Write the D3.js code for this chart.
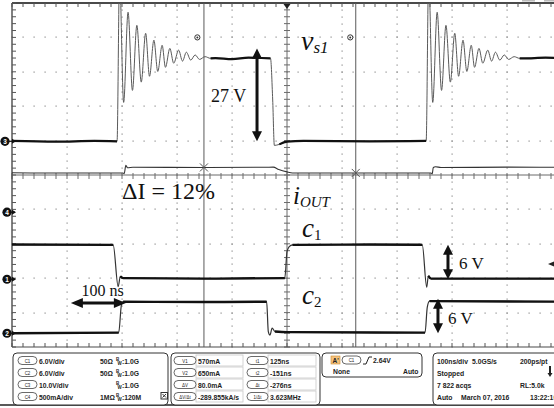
<!DOCTYPE html>
<html>
<head>
<meta charset="utf-8">
<script src="https://cdn.jsdelivr.net/npm/d3@7"></script>
<style>
  body { margin: 0; background: #fff; }
  svg { display: block; }
</style>
</head>
<body>
<svg id="scope" width="554" height="408"></svg>
<script>
// ---- Acquisition setup -------------------------------------------------
// 100 ns/div horizontally over 10 divisions, 10 vertical divisions
const timeDomain = [-500, 500];        // ns
const divDomain = [-5, 5];             // divisions

// Per-channel scale (units/div) and ground offset (divisions from centre)
const channelScales  = { C1: 6, C2: 6, C3: 10, C4: 0.5 };
const channelOffsets = { C1: -3.03, C2: -4.6, C3: 0.98, C4: -1.08 };

// ---- Waveforms (time ns, value in channel units) -----------------------
// Switching-node ringing after each rising edge of v_s1 (time after edge, volts)
const ringTimes = [0, 4.5, 12, 20, 28, 36, 44, 52, 59, 67, 74, 82, 88, 96, 103, 112, 119, 126, 134, 142, 150, 160, 170];
const ringVolts = [0, 48, 11.3, 37.5, 14.8, 33.7, 17.2, 31.4, 18.9, 29.4, 20.3, 27.9, 21.5, 27.0, 22.7, 26.5, 23.3, 25.9, 23.6, 25.1, 23.8, 24.6, 24.1];
const vs1RiseTimes = [-309, 253];

// v_s1 (C3) segments between the ringing bursts
const vs1Before = [[-500, 0.1], [-420, -0.1], [-350, 0.1], [-309, 0]];
const vs1Middle = [[-130, 24.2], [-100, 23.9], [-70, 24.3], [-30, 24.1], [-26, 12], [-23, -1.2], [-14, -0.9], [0, -0.1], [30, 0.1], [150, 0.0], [253, 0.1]];
const vs1After  = [[430, 24.1], [470, 24.3], [500, 24.1]];

// i_OUT (C4), amps
const iOutPoints = [[-500, 0.572], [-400, 0.568], [-298, 0.570], [-296, 0.560], [-293, 0.68], [-290, 0.645], [-280, 0.652], [-151, 0.650], [-40, 0.652], [-25, 0.655], [-15, 0.62], [0, 0.585], [10, 0.570], [125, 0.570], [262, 0.568], [264, 0.555], [266, 0.650], [270, 0.66], [280, 0.648], [400, 0.655], [500, 0.652]];

// Gate signal c1 (C1), volts
const c1Points = [[-500, 6.05], [-316, 6.0], [-307, -1.3], [-303, 0.5], [-298, 0.2], [-150, 0.1], [-4, 0.2], [0, 4.8], [4, 5.7], [10, 6.0], [150, 6.05], [246, 6.0], [254, -1.4], [257, 0.6], [262, 0.1], [500, 0.1]];

// Gate signal c2 (C2), volts
const c2Points = [[-500, 0.0], [-306, 0.1], [-301, 5.0], [-298, 5.5], [-150, 5.45], [-37, 5.5], [-34, 0.3], [-31, -0.3], [-27, 0.9], [-22, 0.3], [0, 0.2], [251, 0.1], [255, 4.5], [259, 5.6], [500, 5.5]];

// Cursor readouts
const cursorTimes = [-151, 125];                       // t2, t1 (ns)
const cursorMarks = [[-151, 0.650], [125, 0.570]];     // V2, V1 on C4 (A)

// Annotation values
const swingVs1 = 27;      // V
const swingC1 = 6;        // V
const swingC2 = 6;        // V
const deadTime = 100;     // ns

// Readout panel text
const chanLabels = ["C1", "C2", "C3", "C4"];
const chanScaleText = ["6.0V/div", "6.0V/div", "10.0V/div", "500mA/div"];
const chanImpText = ["50Ω", "50Ω", "", "1MΩ"];
const chanBwText = [":1.0G", ":1.0G", ":1.0G", ":120M"];
const vCursorLabels = ["V1", "V2", "ΔV", "ΔV/Δt"];
const vCursorValues = ["570mA", "650mA", "80.0mA", "-289.855kA/s"];
const tCursorLabels = ["t1", "t2", "Δt", "1/Δt"];
const tCursorValues = ["125ns", "-151ns", "-276ns", "3.623MHz"];
const acqRows = [
  ["100ns/div", "5.0GS/s", "200ps/pt"],
  ["Stopped", "", ""],
  ["7 822 acqs", "", "RL:5.0k"],
  ["Auto", "March 07, 2016", "13:22:10"]
];

// ---- Scales ------------------------------------------------------------
const svg = d3.select("#scope");
const gx0 = 12, gy0 = 3, gx1 = 562, gy1 = 347;
const x = d3.scaleLinear().domain(timeDomain).range([gx0, gx1]);
const yDiv = d3.scaleLinear().domain(divDomain).range([gy1, gy0]);
const yCh = ch => v => yDiv(channelOffsets[ch] + v / channelScales[ch]);

// ---- Graticule ---------------------------------------------------------
const grat = svg.append("g");
const minorX = d3.range(timeDomain[0], timeDomain[1] + 0.1, 20);
const minorY = d3.range(divDomain[0], divDomain[1] + 0.01, 0.2);
const majorX = d3.range(-400, 401, 100).filter(d => d !== 0);
const majorY = d3.range(-4, 5, 1).filter(d => d !== 0);

// dotted division lines
const dots = [];
majorY.forEach(r => minorX.forEach(t => dots.push([x(t), yDiv(r)])));
majorX.forEach(c => minorY.forEach(v => dots.push([x(c), yDiv(v)])));
grat.selectAll("rect.dot").data(dots).join("rect")
  .attr("x", d => Math.round(d[0]) - 0.5).attr("y", d => Math.round(d[1]) - 0.5)
  .attr("width", 1.2).attr("height", 1.2).attr("fill", "#8c8c8c");

// centre axes
grat.append("line").attr("x1", gx0).attr("x2", gx1).attr("y1", yDiv(0)).attr("y2", yDiv(0))
  .attr("stroke", "#6a6a6a").attr("stroke-width", 1);
grat.append("line").attr("x1", x(0)).attr("x2", x(0)).attr("y1", gy0).attr("y2", gy1)
  .attr("stroke", "#6a6a6a").attr("stroke-width", 1);
grat.selectAll("line.tx").data(minorX).join("line")
  .attr("x1", d => x(d)).attr("x2", d => x(d)).attr("y1", yDiv(0) - 2).attr("y2", yDiv(0) + 4)
  .attr("stroke", "#6a6a6a");
grat.selectAll("line.ty").data(minorY).join("line")
  .attr("y1", d => yDiv(d)).attr("y2", d => yDiv(d)).attr("x1", x(0) - 3).attr("x2", x(0) + 3)
  .attr("stroke", "#6a6a6a");

// frame edges with inward ticks
grat.append("line").attr("x1", gx0).attr("x2", gx1).attr("y1", gy0).attr("y2", gy0).attr("stroke", "#4a4a4a").attr("stroke-width", 2);
grat.append("line").attr("x1", gx0).attr("x2", gx1).attr("y1", gy1).attr("y2", gy1).attr("stroke", "#4a4a4a").attr("stroke-width", 1.2);
grat.append("line").attr("x1", gx0).attr("x2", gx0).attr("y1", gy0).attr("y2", gy1).attr("stroke", "#4a4a4a").attr("stroke-width", 1.4);
grat.selectAll("line.tt").data(minorX).join("line")
  .attr("x1", d => x(d)).attr("x2", d => x(d)).attr("y1", gy0).attr("y2", gy0 + 4).attr("stroke", "#555");
grat.selectAll("line.tb").data(minorX).join("line")
  .attr("x1", d => x(d)).attr("x2", d => x(d)).attr("y1", gy1 - 4).attr("y2", gy1).attr("stroke", "#555");
grat.selectAll("line.tl").data(minorY).join("line")
  .attr("y1", d => yDiv(d)).attr("y2", d => yDiv(d)).attr("x1", gx0).attr("x2", gx0 + 4).attr("stroke", "#555");

// time cursors
grat.selectAll("line.cur").data(cursorTimes).join("line")
  .attr("x1", d => x(d)).attr("x2", d => x(d)).attr("y1", gy0).attr("y2", gy1)
  .attr("stroke", "#5a5a5a").attr("stroke-width", 1);

// ---- Traces ------------------------------------------------------------
svg.append("clipPath").attr("id", "screen").append("rect")
  .attr("x", gx0).attr("y", gy0).attr("width", gx1 - gx0).attr("height", gy1 - gy0);
const traces = svg.append("g").attr("clip-path", "url(#screen)");

function ringBurst(t0) {
  return ringTimes.map((t, i) => [t0 + t, ringVolts[i]]);
}
const vs1Points = [].concat(vs1Before, ringBurst(vs1RiseTimes[0]).slice(1), vs1Middle,
  ringBurst(vs1RiseTimes[1]).slice(1), vs1After);

function drawTrace(points, ch, width, color) {
  const line = d3.line().curve(d3.curveMonotoneX).x(d => x(d[0])).y(d => yCh(ch)(d[1]));
  traces.append("path").attr("d", line(points)).attr("fill", "none")
    .attr("stroke", color).attr("stroke-width", width).attr("stroke-linejoin", "round");
}
function within(points, a, b) { return points.filter(d => d[0] >= a && d[0] <= b); }

// v_s1: thin through the ringing, heavier on the settled levels
drawTrace(vs1Points, "C3", 1, "#5a5a5a");
drawTrace(within(vs1Points, -500, -309), "C3", 2.2, "#111");
drawTrace(within(vs1Points, -140, -30), "C3", 2.2, "#111");
drawTrace(within(vs1Points, -14, 253), "C3", 2.2, "#111");
drawTrace(within(vs1Points, 423, 500), "C3", 2.2, "#111");

drawTrace(iOutPoints, "C4", 1.1, "#333");
drawTrace(c1Points, "C1", 1.2, "#333");
drawTrace(within(c1Points, -500, -316), "C1", 2.4, "#111");
drawTrace(within(c1Points, -303, -4), "C1", 2.4, "#111");
drawTrace(within(c1Points, 10, 246), "C1", 2.4, "#111");
drawTrace(within(c1Points, 257, 500), "C1", 2.4, "#111");
drawTrace(c2Points, "C2", 1.2, "#333");
drawTrace(within(c2Points, -500, -306), "C2", 2.4, "#111");
drawTrace(within(c2Points, -298, -37), "C2", 2.4, "#111");
drawTrace(within(c2Points, -22, 251), "C2", 2.4, "#111");
drawTrace(within(c2Points, 259, 500), "C2", 2.4, "#111");

// cursor crossing marks on i_OUT
const xm = svg.append("g");
cursorMarks.forEach(([t, a]) => {
  const cx = x(t), cy = yCh("C4")(a);
  xm.append("path").attr("d", `M${cx - 4},${cy - 4}L${cx + 4},${cy + 4}M${cx - 4},${cy + 4}L${cx + 4},${cy - 4}`)
    .attr("stroke", "#555").attr("stroke-width", 1);
});

// small cursor readout markers near the top
[-163, 115].forEach(t => {
  const g = svg.append("g").attr("transform", `translate(${x(t)},${yDiv(4)})`);
  g.append("circle").attr("r", 2.6).attr("fill", "#fff").attr("stroke", "#333").attr("stroke-width", 1);
  g.append("circle").attr("r", 1).attr("fill", "#333");
});

// trigger position and level markers
svg.append("path").attr("d", `M${x(0) - 3.5},${gy0 + 1}L${x(0) + 3.5},${gy0 + 1}L${x(0)},${gy0 + 6}Z`).attr("fill", "#222");
const trigY = yCh("C1")(2.64);
svg.append("path").attr("d", `M548,${trigY}L554,${trigY - 2.5}L554,${trigY + 2.5}Z`).attr("fill", "#222");

// channel ground markers
const markerDefs = [["3", "C3", 5], ["4", "C4", 7], ["1", "C1", 7], ["2", "C2", 7]];
markerDefs.forEach(([lab, ch, cx]) => {
  const cy = yCh(ch)(0);
  const g = svg.append("g");
  g.append("path").attr("d", `M${cx},${cy}L${gx0 + 3},${cy}`).attr("stroke", "#111").attr("stroke-width", 1.2);
  g.append("path").attr("d", `M${gx0 + 4},${cy}L${gx0},${cy - 2.5}L${gx0},${cy + 2.5}Z`).attr("fill", "#111");
  g.append("circle").attr("cx", cx).attr("cy", cy).attr("r", 4.6).attr("fill", "#111");
  g.append("text").attr("x", cx).attr("y", cy + 2.4).attr("text-anchor", "middle")
    .attr("font-family", "Liberation Sans, Arial, sans-serif").attr("font-weight", "bold")
    .attr("font-size", 6.5).attr("fill", "#fff").text(lab);
});

// ---- Annotations -------------------------------------------------------
const ann = svg.append("g").attr("font-family", "Liberation Serif, Times New Roman, serif").attr("fill", "#111");

function vArrow(t, ch, v0, v1, head = 7, w = 3) {
  const px = x(t), ya = yCh(ch)(v0), yb = yCh(ch)(v1);
  const top = Math.min(ya, yb), bot = Math.max(ya, yb);
  ann.append("line").attr("x1", px).attr("x2", px).attr("y1", top + head).attr("y2", bot - head)
    .attr("stroke", "#111").attr("stroke-width", w);
  ann.append("path").attr("d", `M${px},${top}L${px - 5},${top + head + 3}L${px + 5},${top + head + 3}Z`).attr("fill", "#111");
  ann.append("path").attr("d", `M${px},${bot}L${px - 5},${bot - head - 3}L${px + 5},${bot - head - 3}Z`).attr("fill", "#111");
}
function hArrow(t0, t1, yPix, head = 9) {
  const a = x(t0), b = x(t1);
  ann.append("line").attr("x1", a + head).attr("x2", b - head).attr("y1", yPix).attr("y2", yPix)
    .attr("stroke", "#111").attr("stroke-width", 3);
  ann.append("path").attr("d", `M${a},${yPix}L${a + head + 3},${yPix - 5}L${a + head + 3},${yPix + 5}Z`).attr("fill", "#111");
  ann.append("path").attr("d", `M${b},${yPix}L${b - head - 3},${yPix - 5}L${b - head - 3},${yPix + 5}Z`).attr("fill", "#111");
}

vArrow(-54.5, "C3", 0, swingVs1);
vArrow(292.7, "C1", 0, swingC1);
vArrow(274.5, "C2", 0, swingC2);
hArrow(-393, -393 + deadTime, 303);

ann.append("text").attr("x", 211).attr("y", 102).attr("font-size", 18).text(`${swingVs1} V`);
ann.append("text").attr("x", 459).attr("y", 268.5).attr("font-size", 17).text(`${swingC1} V`);
ann.append("text").attr("x", 448).attr("y", 324).attr("font-size", 17).text(`${swingC2} V`);
ann.append("text").attr("x", 81.5).attr("y", 296).attr("font-size", 16).text(`${deadTime} ns`);
ann.append("text").attr("x", 122).attr("y", 198.5).attr("font-size", 24).text("ΔI = 12%");

const vs1 = ann.append("text").attr("x", 301).attr("y", 50).attr("font-style", "italic");
vs1.append("tspan").attr("font-size", 28).text("v");
vs1.append("tspan").attr("font-size", 17).attr("dy", 3).text("s1");

const iout = ann.append("text").attr("x", 293).attr("y", 204).attr("font-style", "italic");
iout.append("tspan").attr("font-size", 25).text("i");
iout.append("tspan").attr("font-size", 15).attr("dy", 2.5).text("OUT");

const c1t = ann.append("text").attr("x", 302).attr("y", 237);
c1t.append("tspan").attr("font-size", 27).attr("font-style", "italic").text("c");
c1t.append("tspan").attr("font-size", 15).attr("dy", 2.5).text("1");

const c2t = ann.append("text").attr("x", 302).attr("y", 304);
c2t.append("tspan").attr("font-size", 27).attr("font-style", "italic").text("c");
c2t.append("tspan").attr("font-size", 15).attr("dy", 2.5).text("2");

// ---- Readout panel -----------------------------------------------------
const panel = svg.append("g").attr("font-family", "Liberation Sans, Arial, sans-serif")
  .attr("font-weight", "bold").attr("fill", "#222");
const rowY = [360.5, 372.5, 384.5, 396.5];
const squeeze = 0.85;   // readout font is narrow

function box(x0, y0, x1, y1) {
  panel.append("rect").attr("x", x0).attr("y", y0).attr("width", x1 - x0).attr("height", y1 - y0)
    .attr("rx", 4).attr("fill", "#fff").attr("stroke", "#333").attr("stroke-width", 1);
}
function pill(x0, cy, w, lab) {
  panel.append("rect").attr("x", x0).attr("y", cy - 4).attr("width", w).attr("height", 8)
    .attr("rx", 4).attr("fill", "#fff").attr("stroke", "#444").attr("stroke-width", 0.8);
  panel.append("text").attr("transform", `translate(${x0 + w / 2},${cy + 2}) scale(${squeeze},1)`)
    .attr("text-anchor", "middle").attr("font-size", 5.2).attr("font-weight", "normal").text(lab);
}
function label(x0, cy, s, size = 8) {
  return panel.append("text").attr("transform", `translate(${x0},${cy + 3}) scale(${squeeze},1)`)
    .attr("font-size", size).text(s);
}

panel.append("line").attr("x1", 0).attr("x2", 554).attr("y1", 405).attr("y2", 405).attr("stroke", "#222").attr("stroke-width", 1.5);

// channel settings
box(13, 353, 168, 405);
chanLabels.forEach((c, i) => {
  pill(18, rowY[i], 19, c);
  label(39, rowY[i], chanScaleText[i]);
  if (chanImpText[i]) label(100, rowY[i], chanImpText[i]);
  // bandwidth mark: small stacked B over W, then the limit
  panel.append("text").attr("x", 116).attr("y", rowY[i] + 0.5).attr("font-size", 4.5).text("B");
  panel.append("text").attr("x", 117.5).attr("y", rowY[i] + 4).attr("font-size", 4.5).text("W");
  label(122, rowY[i], chanBwText[i]);
});
panel.append("rect").attr("x", 161).attr("y", 392.5).attr("width", 6.5).attr("height", 6.5).attr("fill", "#fff").attr("stroke", "#333");
panel.append("path").attr("d", "M162.5,394L166,397.5M162.5,397.5L166,394").attr("stroke", "#333");

// cursor readouts
box(171, 353, 320, 405);
vCursorLabels.forEach((c, i) => {
  panel.append("rect").attr("x", 196).attr("y", rowY[i] - 5.5).attr("width", 47).attr("height", 11).attr("fill", "none").attr("stroke", "#c8c8c8").attr("stroke-width", 0.8);
  pill(174, rowY[i], 22, c);
  label(198, rowY[i], vCursorValues[i]);
});
tCursorLabels.forEach((c, i) => {
  panel.append("rect").attr("x", 268).attr("y", rowY[i] - 5.5).attr("width", 48).attr("height", 11).attr("fill", "none").attr("stroke", "#c8c8c8").attr("stroke-width", 0.8);
  pill(247, rowY[i], 21, c);
  label(270, rowY[i], tCursorValues[i]);
});

// trigger
box(322, 353, 422, 377);
panel.append("rect").attr("x", 331).attr("y", 356).attr("width", 9).attr("height", 8).attr("fill", "#f5c27e").attr("stroke", "#c98a2e").attr("stroke-width", 0.6);
panel.append("text").attr("x", 332.5).attr("y", 362.5).attr("font-size", 6.5).text("A'");
pill(342, 360, 19, "C1");
panel.append("path").attr("d", "M363,364L366,364L369,357L372,357").attr("fill", "none").attr("stroke", "#222").attr("stroke-width", 1);
label(373, 360, "2.64V");
label(333, 370.5, "None");
label(403, 370.5, "Auto");

// acquisition
box(433, 353, 560, 405);
acqRows.forEach((r, i) => {
  if (r[0]) label(437, rowY[i], r[0]);
  if (r[1]) label(i === 0 ? 472 : 461, rowY[i], r[1]);
  if (r[2]) label(i === 3 ? 530 : 520, rowY[i], r[2]);
});
panel.append("path").attr("d", "M550,366L550,374").attr("stroke", "#222").attr("stroke-width", 2);
panel.append("path").attr("d", "M547.5,373L552.5,373L550,377Z").attr("fill", "#222");

// top-right status tabs
svg.append("rect").attr("x", 522).attr("y", 0).attr("width", 13).attr("height", 1.5).attr("fill", "#bbb");
svg.append("rect").attr("x", 544).attr("y", 0).attr("width", 10).attr("height", 1.5).attr("fill", "#bbb");
</script>
</body>
</html>
